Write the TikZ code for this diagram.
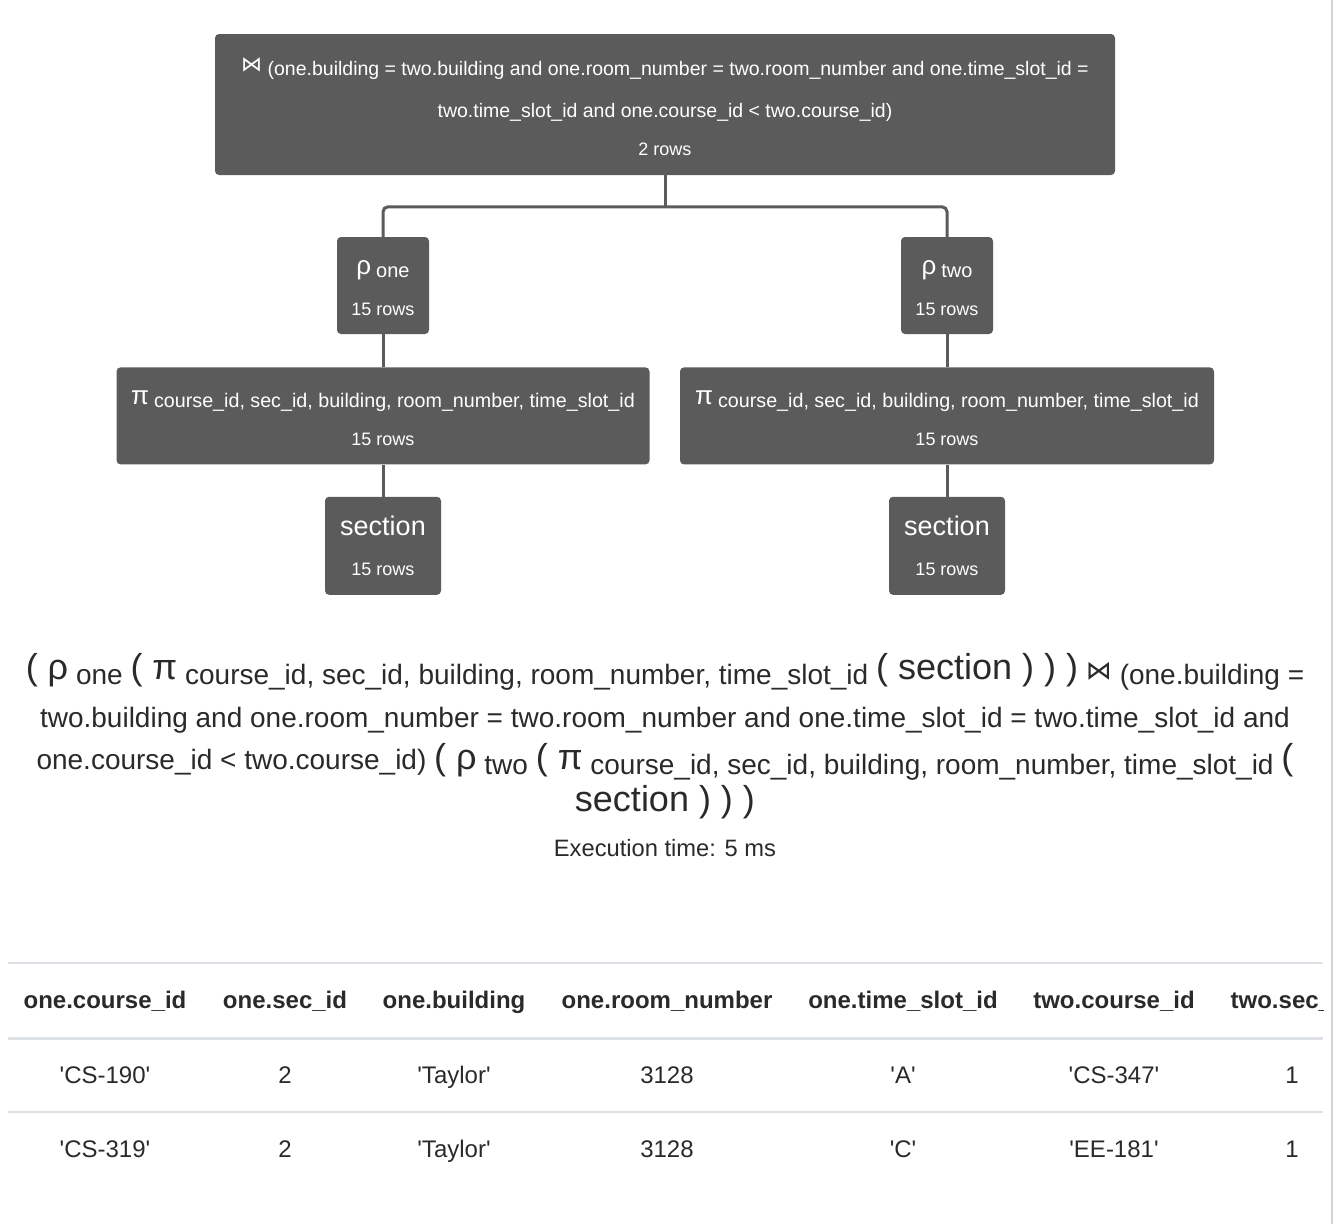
\documentclass[tikz,border=0pt]{standalone}
\usepackage{fontspec}
\setmainfont{Liberation Sans}
\newfontfamily\symfont{DejaVu Sans}
\usetikzlibrary{positioning}
\usepackage{xcolor}
\definecolor{opgray}{HTML}{5B5B5B}
\definecolor{inkgray}{HTML}{2A2A2A}
\definecolor{rulegray}{HTML}{DEE2E6}
\definecolor{edgegray}{HTML}{D3D3D3}
\newcommand{\sq}[1]{\textquotesingle#1\textquotesingle}
\newcommand{\opsym}[2]{{\fontsize{#1}{#1}\selectfont #2}}
\newcommand{\lowered}[2]{\raisebox{-#1pt}{#2}}

\begin{document}
\begin{tikzpicture}[x=1pt, y=-1pt,
  op/.style = {fill=opgray, rounded corners=4pt, text=white, align=center, inner sep=0pt, font=\fontsize{18}{38}\selectfont},
  link/.style = {draw=opgray, line width=3pt, rounded corners=5pt},
  cell/.style = {text=inkgray, text height=19pt, text depth=3pt, font=\fontsize{24}{28}\selectfont},
  head/.style = {cell, font=\fontsize{24}{28}\selectfont\bfseries},
  rule/.style = {draw=rulegray, line width=2pt}]
\useasboundingbox (0,0) rectangle (1342,1224);
\fill[white] (0,0) rectangle (1342,1224);
\draw[edgegray, line width=2pt] (1332,0) -- (1332,1224);

% query tree
\node[op, minimum width=900pt, minimum height=141pt, font=\fontsize{19.5}{38}\selectfont] (join) at (665,104.5) {\rule{0pt}{22pt}{\symfont\fontsize{21}{21}\selectfont\raisebox{4pt}{⋈}} (one.building = two.building and one.room\_number = two.room\_number and one.time\_slot\_id =\\[4pt]two.time\_slot\_id and one.course\_id < two.course\_id)\\{\fontsize{18}{18}\selectfont 2 rows}};
\node[op, minimum width=92pt, minimum height=97pt] (rhoone) at (383,285.5) {\rule{0pt}{19pt}\opsym{26}{ρ} \lowered{3}{\fontsize{20}{20}\selectfont one}\\[3pt]15 rows};
\node[op, minimum width=92pt, minimum height=97pt] (rhotwo) at (947,285.5) {\rule{0pt}{19pt}\opsym{26}{ρ} \lowered{3}{\fontsize{20}{20}\selectfont two}\\[3pt]15 rows};
\node[op, minimum width=533pt, minimum height=97pt, below=33pt of rhoone] (projone) {\rule{0pt}{19pt}\opsym{26}{π} \lowered{3}{\fontsize{19.7}{20}\selectfont course\_id, sec\_id, building, room\_number, time\_slot\_id}\\[3pt]15 rows};
\node[op, minimum width=534pt, minimum height=97pt, below=33pt of rhotwo] (projtwo) {\rule{0pt}{19pt}\opsym{26}{π} \lowered{3}{\fontsize{19.7}{20}\selectfont course\_id, sec\_id, building, room\_number, time\_slot\_id}\\[3pt]15 rows};
\node[op, minimum width=116pt, minimum height=98pt, below=32pt of projone] (relone) {\opsym{27}{section}\\[2pt]15 rows};
\node[op, minimum width=116pt, minimum height=98pt, below=32pt of projtwo] (reltwo) {\opsym{27}{section}\\[2pt]15 rows};
\draw[link] (join.south) -- ++(0,32);
\draw[link] (rhoone.north) -- ++(0,-30) -| (rhotwo.north);
\draw[link] (rhoone) -- (projone);
\draw[link] (rhotwo) -- (projtwo);
\draw[link] (projone) -- (relone);
\draw[link] (projtwo) -- (reltwo);

% expression
\node[text=inkgray, align=center, font=\fontsize{28}{42}\selectfont] (expr) at (665,736) {\opsym{36}{( ρ} \lowered{5}{one} \opsym{36}{( π} \lowered{5}{course\_id, sec\_id, building, room\_number, time\_slot\_id} \opsym{36}{( section ) ) )} {\symfont\fontsize{26}{26}\selectfont ⋈} \lowered{5}{(one.building =}\\[6pt]
two.building and one.room\_number = two.room\_number and one.time\_slot\_id = two.time\_slot\_id and\\
one.course\_id < two.course\_id) \opsym{36}{( ρ} \lowered{5}{two} \opsym{36}{( π} \lowered{5}{course\_id, sec\_id, building, room\_number, time\_slot\_id} \opsym{36}{(}\\[0pt]
\opsym{36}{section ) ) )}};
\node[text=inkgray, font=\fontsize{23.7}{28}\selectfont] (exec) at (665,848) {Execution time: 5 ms};

% result table
\draw[rule, line width=1.5pt] (8,963) -- (1323,963);
\draw[rule, line width=3pt] (8,1038) -- (1323,1038);
\draw[rule, line width=1.5pt] (8,1112) -- (1323,1112);
\node[head] (hcourseone) at (105,1000) {one.course\_id};
\node[head] (hsecone) at (285,1000) {one.sec\_id};
\node[head] (hbuildone) at (454,1000) {one.building};
\node[head] (hroomone) at (667,1000) {one.room\_number};
\node[head] (hslotone) at (903,1000) {one.time\_slot\_id};
\node[head] (hcoursetwo) at (1114,1000) {two.course\_id};
\begin{scope}
  \clip (0,940) rectangle (1323,1060);
  \node[head] (hsectwo) at (1292,1000) {two.sec\_id};
\end{scope}
\node[cell] (acourseone) at (105,1075) {\sq{CS-190}};
\node[cell] (asecone) at (285,1075) {2};
\node[cell] (abuildone) at (454,1075) {\sq{Taylor}};
\node[cell] (aroomone) at (667,1075) {3128};
\node[cell] (aslotone) at (903,1075) {\sq{A}};
\node[cell] (acoursetwo) at (1114,1075) {\sq{CS-347}};
\node[cell] (asectwo) at (1292,1075) {1};
\node[cell] (bcourseone) at (105,1149) {\sq{CS-319}};
\node[cell] (bsecone) at (285,1149) {2};
\node[cell] (bbuildone) at (454,1149) {\sq{Taylor}};
\node[cell] (broomone) at (667,1149) {3128};
\node[cell] (bslotone) at (903,1149) {\sq{C}};
\node[cell] (bcoursetwo) at (1114,1149) {\sq{EE-181}};
\node[cell] (bsectwo) at (1292,1149) {1};
\end{tikzpicture}
\end{document}
